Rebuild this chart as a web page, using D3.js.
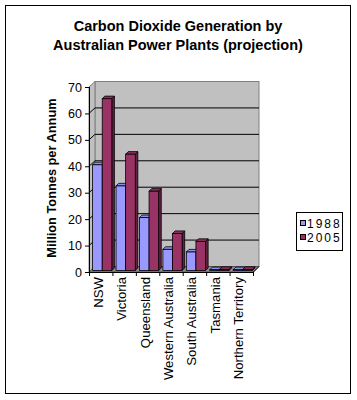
<!DOCTYPE html>
<html><head><meta charset="utf-8">
<script src="https://cdn.jsdelivr.net/npm/d3@7"></script>
<style>
html,body{margin:0;padding:0;background:#fff;}
text{font-family:Arial,"Liberation Sans",sans-serif;}
</style></head>
<body>
<svg id="chart" width="357" height="400"></svg>
<script>
const categories = ["NSW","Victoria","Queensland","Western Australia","South Australia","Tasmania","Northern Territory"];
const seriesNames = ["1988","2005"];
const values1988 = [40,32,20,8,7,0.3,0.3];
const values2005 = [65,44,30,14,11,0.4,0.4];
const yTicks = [0,10,20,30,40,50,60,70];
const colors = ["#9999FF","#993366"];

const svg = d3.select("#chart");
// outer border
svg.append("rect").attr("x",5.5).attr("y",5.5).attr("width",345).attr("height",388)
  .attr("fill","#fff").attr("stroke","#000");

// title
const title = svg.append("text").attr("text-anchor","middle").attr("font-size",14.5).attr("font-weight","bold");
title.append("tspan").attr("x",178).attr("y",31).text("Carbon Dioxide Generation by");
title.append("tspan").attr("x",178).attr("y",49.5).text("Australian Power Plants (projection)");

const x0 = 89, x1 = 253, yB = 272, yT = 87;
const DX = 6, DY = -5.5;
const x = d3.scaleBand().domain(categories).range([x0,x1]).paddingInner(0).paddingOuter(0);
const y = d3.scaleLinear().domain([0,70]).range([yB,yT]);

const g = svg.append("g");
// back wall
g.append("rect").attr("x",x0+DX).attr("y",yT+DY).attr("width",x1-x0).attr("height",yB-yT)
  .attr("fill","#C0C0C0").attr("stroke","#808080");
// side wall
g.append("polygon").attr("points",[[x0,yT],[x0+DX,yT+DY],[x0+DX,yB+DY],[x0,yB]].join(" "))
  .attr("fill","#C0C0C0").attr("stroke","#808080");
// floor
g.append("polygon").attr("points",[[x0,yB],[x0+DX,yB+DY],[x1+DX,yB+DY],[x1,yB]].join(" "))
  .attr("fill","#8C8C8C").attr("stroke","#555");
// gridlines
yTicks.filter(v=>v>0 && v<70).forEach(v=>{
  g.append("line").attr("x1",x0+DX).attr("x2",x1+DX).attr("y1",y(v)+DY).attr("y2",y(v)+DY)
   .attr("stroke","#000");
  g.append("line").attr("x1",x0).attr("x2",x0+DX).attr("y1",y(v)).attr("y2",y(v)+DY)
   .attr("stroke","#000");
});

// y axis
const yAxis = d3.axisLeft(y).tickValues(yTicks).tickSize(4).tickPadding(3).tickFormat(d3.format("d"));
const ya = svg.append("g").attr("transform",`translate(${x0},0)`).call(yAxis);
ya.select(".domain").remove();
ya.selectAll("line").attr("stroke","#000");
ya.selectAll("text").attr("font-size",12.5).attr("font-family","Arial,'Liberation Sans',sans-serif").attr("fill","#000");
svg.append("line").attr("x1",x0+0.5).attr("x2",x0+0.5).attr("y1",yT).attr("y2",yB).attr("stroke","#000");

// x axis
svg.append("line").attr("x1",x0).attr("x2",x1).attr("y1",yB+0.5).attr("y2",yB+0.5).attr("stroke","#000");
svg.append("line").attr("x1",x1).attr("x2",x1+DX).attr("y1",yB+0.5).attr("y2",yB+DY).attr("stroke","#000");
const bounds = categories.map(c=>x(c)).concat([x1]);
bounds.forEach(b=>{
  svg.append("line").attr("x1",b+0.5).attr("x2",b+0.5).attr("y1",yB).attr("y2",yB+4).attr("stroke","#000");
});
// category labels
categories.forEach(c=>{
  const cx = x(c)+x.bandwidth()/2 - 3;
  svg.append("text").attr("transform",`translate(${cx+5},${277}) rotate(-90)`)
    .attr("text-anchor","end").attr("font-size",13.2).attr("fill","#000").text(c);
});

// bars
const xs = d3.scaleBand().domain(seriesNames).range([0,x.bandwidth()]).paddingInner(0).paddingOuter(0.22);
const fOff = 1.5, depth = 2.6;
const data = [values1988, values2005];
const bars = svg.append("g");
categories.forEach((c,i)=>{
  seriesNames.forEach((s,j)=>{
    const v = data[j][i];
    const bx0 = x(c)+xs(s)+fOff, bx1 = bx0+xs.bandwidth();
    const by0 = y(v)-fOff, by1 = yB-fOff;
    const col = d3.color(colors[j]);
    const side = col.darker(1.2).formatHex();
    const top = col.darker(0.2).formatHex();
    bars.append("polygon").attr("points",[[bx1,by0],[bx1+depth,by0-depth],[bx1+depth,by1-depth],[bx1,by1]].join(" "))
      .attr("fill",side).attr("stroke","#000").attr("stroke-width",0.8).attr("stroke-linejoin","round");
    bars.append("polygon").attr("points",[[bx0,by0],[bx0+depth,by0-depth],[bx1+depth,by0-depth],[bx1,by0]].join(" "))
      .attr("fill",top).attr("stroke","#000").attr("stroke-width",0.8).attr("stroke-linejoin","round");
    bars.append("rect").attr("x",bx0).attr("y",by0).attr("width",bx1-bx0).attr("height",by1-by0)
      .attr("fill",colors[j]).attr("stroke","#000").attr("stroke-width",0.8);
  });
});

// y axis title
svg.append("text").attr("transform","translate(55.5,178) rotate(-90)").attr("text-anchor","middle")
  .attr("font-size",12.8).attr("font-weight","bold").attr("fill","#000").text("Million Tonnes per Annum");

// legend
const lg = svg.append("g");
lg.append("rect").attr("x",296.5).attr("y",212.5).attr("width",46).attr("height",38).attr("fill","#fff").attr("stroke","#000");
seriesNames.forEach((s,j)=>{
  lg.append("rect").attr("x",300.5).attr("y",220.5+j*14).attr("width",5).attr("height",5)
    .attr("fill",colors[j]).attr("stroke","#000");
  lg.append("text").attr("x",307).attr("y",227.5+j*14).attr("font-size",12).attr("letter-spacing",2)
    .attr("fill","#000").text(s);
});
</script>
</body></html>
